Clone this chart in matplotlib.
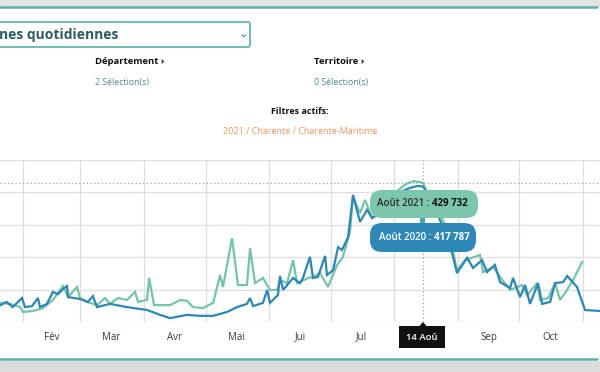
import matplotlib
matplotlib.use("Agg")
import matplotlib.pyplot as plt
from matplotlib.patches import FancyBboxPatch, Rectangle, Polygon
from matplotlib.transforms import blended_transform_factory

plt.rcParams['font.family'] = ['Open Sans', 'DejaVu Sans']

# ---- Data (day of year, 0 = 1 Jan ; values in thousands) ----
jours_2020 = [20, 23, 26, 30.5, 32, 35.4, 38.3, 39.3, 42.7, 45.6, 48.1, 50.5, 52.5, 53,
              58.8, 62.7, 65.1, 67.1, 73.4, 81.7, 91.5, 97.8, 102.7, 111, 117.3, 123.7,
              130.5, 135.4, 140.2, 141.7, 143.2, 148, 150, 151.4, 155.3, 156.3, 157.8,
              162.7, 166, 167.5, 170.9, 172.4, 174.8, 178.3, 179.2, 182.2, 184.6, 186.5,
              189.5, 191.9, 195.3, 198.7, 201.2, 205.1, 210, 214.8, 219.7, 223.6, 226,
              230.4, 235.3, 239.2, 242.6, 247.5, 250.4, 254.8, 257.2, 261.1, 263.6, 268.5,
              269.9, 273.3, 275.8, 278.2, 282.1, 284.1, 288, 290.4, 294.3, 296.3, 301.1,
              305, 312.3]
visites_2020 = [52, 62, 46, 74, 46, 49, 74, 46, 56, 93, 86, 102, 111, 77,
                71, 62, 80, 46, 56, 46, 37, 22, 12, 22, 19, 19,
                31, 46, 56, 74, 49, 59, 99, 59, 83, 142, 99,
                136, 120, 136, 201, 136, 139, 204, 145, 160, 231, 222,
                262, 392, 309, 346, 321, 340, 377, 401, 414, 420, 417.787,
                377, 299, 238, 151, 198, 167, 191, 154, 176, 123, 105,
                136, 77, 114, 56, 120, 56, 62, 120, 123, 142, 108,
                37, 34]

jours_2021 = [19.8, 24.7, 29.6, 31, 35.9, 40.8, 45.6, 50.5, 53, 57.3, 58.8, 62.2, 67.1,
              71, 73.4, 77.3, 81.7, 85.6, 87.1, 91.5, 92.5, 94.9, 102.7, 107.6, 111,
              113.9, 118.8, 123.7, 127.1, 128.5, 132.9, 135.8, 140.2, 141.7, 144.1, 148,
              151.4, 154.9, 156.3, 159.7, 162.7, 164.6, 166, 170, 172.4, 175.8, 179.7,
              184.1, 187, 190.4, 191.9, 195.3, 197.8, 201.2, 204.1, 209, 213.9, 217.7,
              221.7, 226, 228.5, 232.4, 236.8, 240.2, 242.6, 246.5, 253.8, 255.3, 260.2,
              263.6, 268.5, 274.3, 276.8, 281.6, 283.1, 287, 290.4, 292.8, 295.3, 299.2,
              303.6]
visites_2021 = [59, 56, 46, 31, 34, 43, 68, 111, 77, 108, 74, 62, 52,
                74, 56, 74, 68, 93, 62, 68, 136, 52, 52, 68, 65,
                46, 43, 59, 145, 108, 259, 114, 114, 228, 120, 136,
                99, 99, 130, 120, 191, 120, 123, 136, 139, 151, 108,
                176, 201, 278, 386, 336, 377, 321, 330, 377, 407, 426,
                435, 429.732, 392, 361, 299, 231, 160, 191, 207, 154, 170,
                139, 99, 114, 83, 120, 68, 74, 120, 68, 90, 130,
                185]

debut_mois = [31, 59, 90, 120, 151, 181, 212, 243, 273, 304]
milieu_mois = [15, 45, 74, 105, 135, 166, 196, 227, 258, 288]
noms_mois = ["Jan", "Fév", "Mar", "Avr", "Mai", "Jui", "Jul", "Aoû", "Sep", "Oct"]
graduations = [0, 100, 200, 300, 400, 500]

jour_survol = 226
mois_survol = "Aoû"
libelle_survol = "14 Aoû"
survol_2021 = ("Août 2021 :", "429 732", 429.732)
survol_2020 = ("Août 2020 :", "417 787", 417.787)

C2021 = "#74c4a9"
C2020 = "#2c87b4"
TEAL = "#55b3a8"

fig = plt.figure(figsize=(6, 3.72), dpi=100)
fig.patch.set_facecolor("white")

# ---- data axes ----
ax = fig.add_axes([0, 50 / 372, 1, 162 / 372])
ax.set_xlim(19.8, 312.3)
ax.set_ylim(0, 500)
ax.set_xticks(debut_mois)
ax.set_yticks(graduations)
ax.tick_params(length=0, labelbottom=False, labelleft=False)
ax.grid(True, color="#dedede", lw=0.9)
for s in ax.spines.values():
    s.set_visible(False)
ax.plot(jours_2021, visites_2021, color=C2021, lw=1.6, zorder=3, solid_joinstyle="miter")
ax.plot(jours_2020, visites_2020, color=C2020, lw=1.6, zorder=4, solid_joinstyle="miter")
ax.axhline(survol_2021[2], color="#a0a0a0", lw=0.9, ls=(0, (1, 2)), zorder=2)
ax.axvline(jour_survol, color="#a0a0a0", lw=0.9, ls=(0, (1, 2)), zorder=2)

tr = blended_transform_factory(ax.transData, ax.transAxes)
for d, n in zip(milieu_mois, noms_mois):
    if n == mois_survol:
        continue  # covered by the hover date label
    ax.text(d, -0.093, n, transform=tr, ha="center", va="center", fontsize=7,
            fontweight="medium", color="#3a3a3a", clip_on=False)

# ---- overlay (page decoration, pixel coordinates) ----
ov = fig.add_axes([0, 0, 1, 1], zorder=10)
ov.set_xlim(0, 600)
ov.set_ylim(372, 0)
ov.axis("off")
ov.patch.set_alpha(0)

ov.add_patch(Rectangle((0, 0), 600, 6.5, color="#e3e3e3", lw=0))
ov.plot([0, 597], [7, 7], color=TEAL, lw=1.8, solid_capstyle="round")
ov.add_patch(Rectangle((0, 360.5), 600, 12, color="#dcdcdc", lw=0))
ov.plot([0, 597], [359, 359], color=TEAL, lw=1.8, solid_capstyle="round")

# dropdown
ov.add_patch(FancyBboxPatch((-10, 22), 260, 25, boxstyle="round,pad=0,rounding_size=2",
                            fc="white", ec="#62b8aa", lw=1.3))
ov.text(-1, 35, "nes quotidiennes", fontsize=10, fontweight="bold",
        color="#2d5d61", ha="left", va="center")
ov.text(243, 34, "⌄", fontsize=8, color="#555555", ha="center", va="center",
        family=["DejaVu Sans"])

ov.text(95, 62, "Département ›", fontsize=6.8, fontweight="bold", color="#111111",
        ha="left", va="center")
ov.text(95, 83, "2 Sélection(s)", fontsize=6.3, fontweight="medium", color="#55868c",
        ha="left", va="center")
ov.text(314, 62, "Territoire ›", fontsize=6.8, fontweight="bold", color="#111111",
        ha="left", va="center")
ov.text(314, 83, "0 Sélection(s)", fontsize=6.3, fontweight="medium", color="#55868c",
        ha="left", va="center")
ov.text(300, 111, "Filtres actifs:", fontsize=6.5, fontweight="bold", color="#111111",
        ha="center", va="center")
ov.text(300, 131, "2021 / Charente / Charente-Maritime", fontsize=6.5, fontweight="medium",
        color="#f0965a", ha="center", va="center")

# tooltips
ov.add_patch(Rectangle((420, 217), 5, 7, color="#4aa6b0", lw=0))
ov.add_patch(FancyBboxPatch((370, 190), 108, 28, boxstyle="round,pad=0,rounding_size=12",
                            fc="#7cc6ae", ec="none"))
ov.add_patch(FancyBboxPatch((370, 223), 106, 29, boxstyle="round,pad=0,rounding_size=12",
                            fc="#2d88b7", ec="none"))
ov.text(429, 204, survol_2021[0], fontsize=7, fontweight="semibold", color="#2a2a2a",
        ha="right", va="center")
ov.text(432, 204, survol_2021[1], fontsize=7, fontweight="bold", color="#111111",
        ha="left", va="center")
ov.text(431, 238, survol_2020[0], fontsize=7, fontweight="semibold", color="white",
        ha="right", va="center")
ov.text(434, 238, survol_2020[1], fontsize=7, fontweight="bold", color="white",
        ha="left", va="center")

# date label on x axis
ov.add_patch(Polygon([[419, 326.5], [423, 322], [427, 326.5]], color="#111111", lw=0))
ov.add_patch(Rectangle((399, 326), 46, 22, color="#111111", lw=0))
ov.text(422, 337, libelle_survol, fontsize=6.8, fontweight="semibold", color="white",
        ha="center", va="center")

fig.savefig("out.png", dpi=100)
